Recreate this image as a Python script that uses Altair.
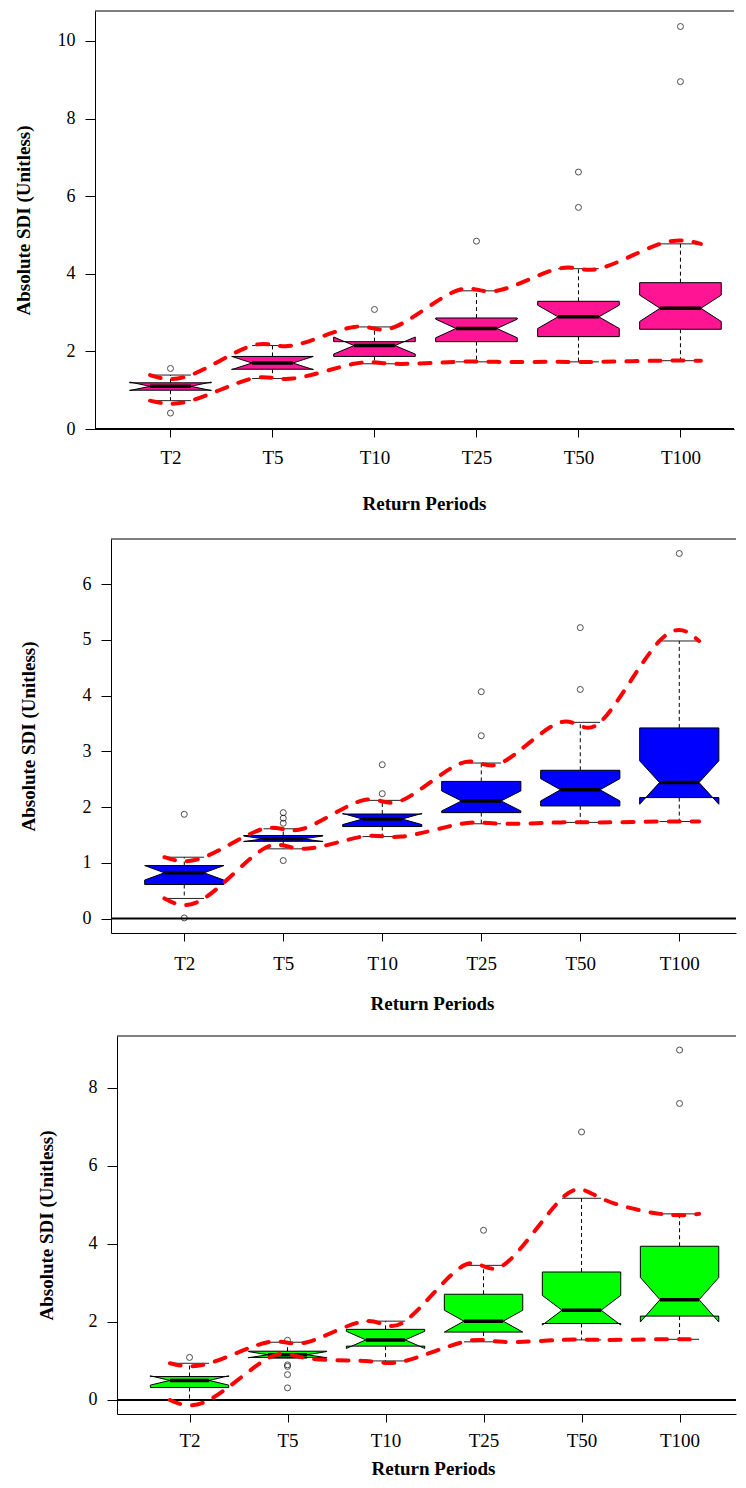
import altair as alt
import pandas as pd

SERIF = "Liberation Serif"
cats = ["T2", "T5", "T10", "T25", "T50", "T100"]

# ---- Panel 1 (pink) ----
p1_low = [0.73, 1.30, 1.68, 1.73, 1.73, 1.76]
p1_q1 = [1.00, 1.54, 1.87, 2.25, 2.38, 2.57]
p1_med = [1.10, 1.70, 2.15, 2.59, 2.89, 3.11]
p1_q3 = [1.19, 1.87, 2.25, 2.86, 3.29, 3.77]
p1_up = [1.39, 2.15, 2.63, 3.56, 4.13, 4.77]
p1_notch = [0.11, 0.17, 0.22, 0.24, 0.30, 0.34]
p1_out_cat = ["T2", "T2", "T10", "T25", "T50", "T50", "T100", "T100"]
p1_out_val = [1.56, 0.41, 3.08, 4.84, 6.62, 5.71, 10.37, 8.95]

# ---- Panel 2 (blue) ----
p2_low = [0.36, 1.25, 1.47, 1.70, 1.725, 1.74]
p2_q1 = [0.61, 1.385, 1.65, 1.90, 2.02, 2.17]
p2_med = [0.82, 1.43, 1.785, 2.11, 2.31, 2.44]
p2_q3 = [0.95, 1.49, 1.875, 2.46, 2.66, 3.42]
p2_up = [1.10, 1.61, 2.12, 2.79, 3.52, 4.98]
p2_notch = [0.13, 0.05, 0.10, 0.18, 0.20, 0.39]
p2_out_cat = ["T2", "T2", "T5", "T5", "T5", "T5", "T10", "T10", "T25", "T25", "T50", "T50", "T100"]
p2_out_val = [1.87, 0.01, 1.90, 1.80, 1.71, 1.04, 2.76, 2.24, 4.07, 3.28, 5.22, 4.11, 6.55]

# ---- Panel 3 (green) ----
p3_low = [0.00, 1.07, 1.00, 1.49, 1.54, 1.555]
p3_q1 = [0.32, 1.09, 1.38, 1.74, 1.96, 2.15]
p3_med = [0.50, 1.16, 1.54, 2.02, 2.30, 2.57]
p3_q3 = [0.60, 1.25, 1.81, 2.71, 3.28, 3.94]
p3_up = [0.94, 1.48, 2.02, 3.45, 5.17, 4.77]
p3_notch = [0.12, 0.08, 0.22, 0.28, 0.38, 0.57]
p3_out_cat = ["T2", "T5", "T5", "T5", "T5", "T5", "T25", "T50", "T100", "T100"]
p3_out_val = [1.09, 1.53, 0.90, 0.86, 0.65, 0.31, 4.35, 6.87, 8.97, 7.60]

BOX_HALF = 0.4
CAP_HALF = 0.2


def make_panel(low, q1, med, q3, up, notch, out_cat, out_val, color,
               ydom, yticks, width, height, xlo, xhi, ytp, xlp, xtp, xtitle_x):
    pos = {c: i + 1 for i, c in enumerate(cats)}
    w = BOX_HALF
    s = CAP_HALF
    rows = []
    for i, c in enumerate(cats):
        x = pos[c]
        n = notch[i]
        verts = [(x - w, q1[i]), (x - w, med[i] - n), (x - w / 2, med[i]),
                 (x - w, med[i] + n), (x - w, q3[i]), (x + w, q3[i]),
                 (x + w, med[i] + n), (x + w / 2, med[i]), (x + w, med[i] - n),
                 (x + w, q1[i])]
        for k, (vx, vy) in enumerate(verts):
            rows.append({"cat": c, "k": k, "vx": vx, "vy": vy})
    box_df = pd.DataFrame(rows)

    whisk = []
    caps = []
    meds = []
    env = []
    for i, c in enumerate(cats):
        x = pos[c]
        whisk.append({"x": x, "a": q3[i], "b": up[i]})
        whisk.append({"x": x, "a": q1[i], "b": low[i]})
        caps.append({"xl": x - s, "xr": x + s, "v": up[i]})
        caps.append({"xl": x - s, "xr": x + s, "v": low[i]})
        meds.append({"xl": x - w / 2, "xr": x + w / 2, "v": med[i]})
        env.append({"line": "upper", "k": 2 * i, "ex": x - s, "ey": up[i]})
        env.append({"line": "upper", "k": 2 * i + 1, "ex": x + s, "ey": up[i]})
        env.append({"line": "lower", "k": 2 * i, "ex": x - s, "ey": low[i]})
        env.append({"line": "lower", "k": 2 * i + 1, "ex": x + s, "ey": low[i]})
    whisk_df = pd.DataFrame(whisk)
    cap_df = pd.DataFrame(caps)
    med_df = pd.DataFrame(meds)
    env_df = pd.DataFrame(env)
    out_df = pd.DataFrame({"x": [pos[c] for c in out_cat], "v": out_val})
    zero_df = pd.DataFrame({"z": [0.0]})

    label_expr = "[" + ",".join("'%s'" % c for c in cats) + "][datum.value - 1]"
    xscale = alt.Scale(domain=[xlo, xhi], nice=False, zero=False)
    yscale = alt.Scale(domain=ydom, nice=False, zero=False)
    xaxis = alt.Axis(values=list(range(1, len(cats) + 1)), labelExpr=label_expr,
                     title="Return Periods", grid=False, tickSize=8,
                     labelPadding=xlp, titlePadding=xtp, titleX=xtitle_x,
                     domainColor="black",
                     tickColor="black", labelColor="black", titleColor="black",
                     labelFont=SERIF, labelFontSize=19, titleFont=SERIF,
                     titleFontSize=19, titleFontWeight="bold", labelFlush=False,
                     labelOverlap=False)
    yaxis = alt.Axis(values=yticks, title="Absolute SDI (Unitless)", grid=False,
                     tickSize=10, labelPadding=10, titlePadding=ytp,
                     domainColor="black", tickColor="black", labelColor="black",
                     titleColor="black", labelFont=SERIF, labelFontSize=18,
                     titleFont=SERIF, titleFontSize=19, titleFontWeight="bold",
                     labelFlush=False, labelOverlap=False)

    def X(f):
        return alt.X(f, type="quantitative", scale=xscale, axis=xaxis)

    def Y(f):
        return alt.Y(f, type="quantitative", scale=yscale, axis=yaxis)

    whiskers = alt.Chart(whisk_df).mark_rule(color="black", strokeWidth=1,
                                             strokeDash=[4, 3]).encode(
        x=X("x"), y=Y("a"), y2="b")
    capmarks = alt.Chart(cap_df).mark_rule(color="#222222", strokeWidth=1).encode(
        x=X("xl"), x2="xr", y=Y("v"))
    boxes = alt.Chart(box_df).mark_line(interpolate="linear-closed", fill=color,
                                        stroke="black", strokeWidth=1).encode(
        x=X("vx"), y=Y("vy"), detail="cat:N", order="k:Q")
    medians = alt.Chart(med_df).mark_rule(color="black", strokeWidth=3.5).encode(
        x=X("xl"), x2="xr", y=Y("v"))
    outliers = alt.Chart(out_df).mark_point(shape="circle", filled=False, size=36,
                                            color="black", strokeWidth=1).encode(
        x=X("x"), y=Y("v"))
    zero = alt.Chart(zero_df).mark_rule(color="black", strokeWidth=2).encode(
        y=Y("z"))
    top = alt.Chart(zero_df).mark_rule(color="black", strokeWidth=1).encode(
        y=alt.value(0))
    envelope = alt.Chart(env_df).mark_line(color="#FF0000", strokeWidth=4,
                                           strokeDash=[11, 12], strokeCap="round",
                                           interpolate="natural", clip=True).encode(
        x=X("ex"), y=Y("ey"), detail="line:N", order="k:Q")

    return alt.layer(whiskers, capmarks, boxes, medians, outliers, zero, top,
                     envelope).properties(width=width, height=height)


def spacer(wd):
    return alt.Chart(pd.DataFrame({"z": [0]})).mark_rect(opacity=0).encode(
        x=alt.value(0), x2=alt.value(wd), y=alt.value(0), y2=alt.value(10)
    ).properties(width=wd, height=10)


panel1 = make_panel(p1_low, p1_q1, p1_med, p1_q3, p1_up, p1_notch, p1_out_cat,
                    p1_out_val, "#FF1493", [0.0, 10.77], [0, 2, 4, 6, 8, 10],
                    639, 418, 0.26, 6.525, 24, 11, 27, 329)
panel2 = make_panel(p2_low, p2_q1, p2_med, p2_q3, p2_up, p2_notch, p2_out_cat,
                    p2_out_val, "#0000FF", [-0.26, 6.81], [0, 1, 2, 3, 4, 5, 6],
                    625, 394, 0.26, 6.573, 44, 13, 21, 321)
panel3 = make_panel(p3_low, p3_q1, p3_med, p3_q3, p3_up, p3_notch, p3_out_cat,
                    p3_out_val, "#00FF00", [-0.36, 9.33], [0, 2, 4, 6, 8],
                    619, 378, 0.26, 6.576, 32, 9, 9, 316)

row1 = alt.hconcat(spacer(6), panel1, spacing=0)
row2 = alt.hconcat(spacer(11), panel2, spacing=0)
row3 = alt.hconcat(spacer(29), panel3, spacing=0)

chart = alt.vconcat(row1, alt.vconcat(row2, row3, spacing=22), spacing=25).properties(
    padding={"left": 0, "top": 2, "right": 0, "bottom": 0}
).configure_view(stroke=None)

chart.save("out.html", embed_options={"renderer": "svg", "actions": False})
